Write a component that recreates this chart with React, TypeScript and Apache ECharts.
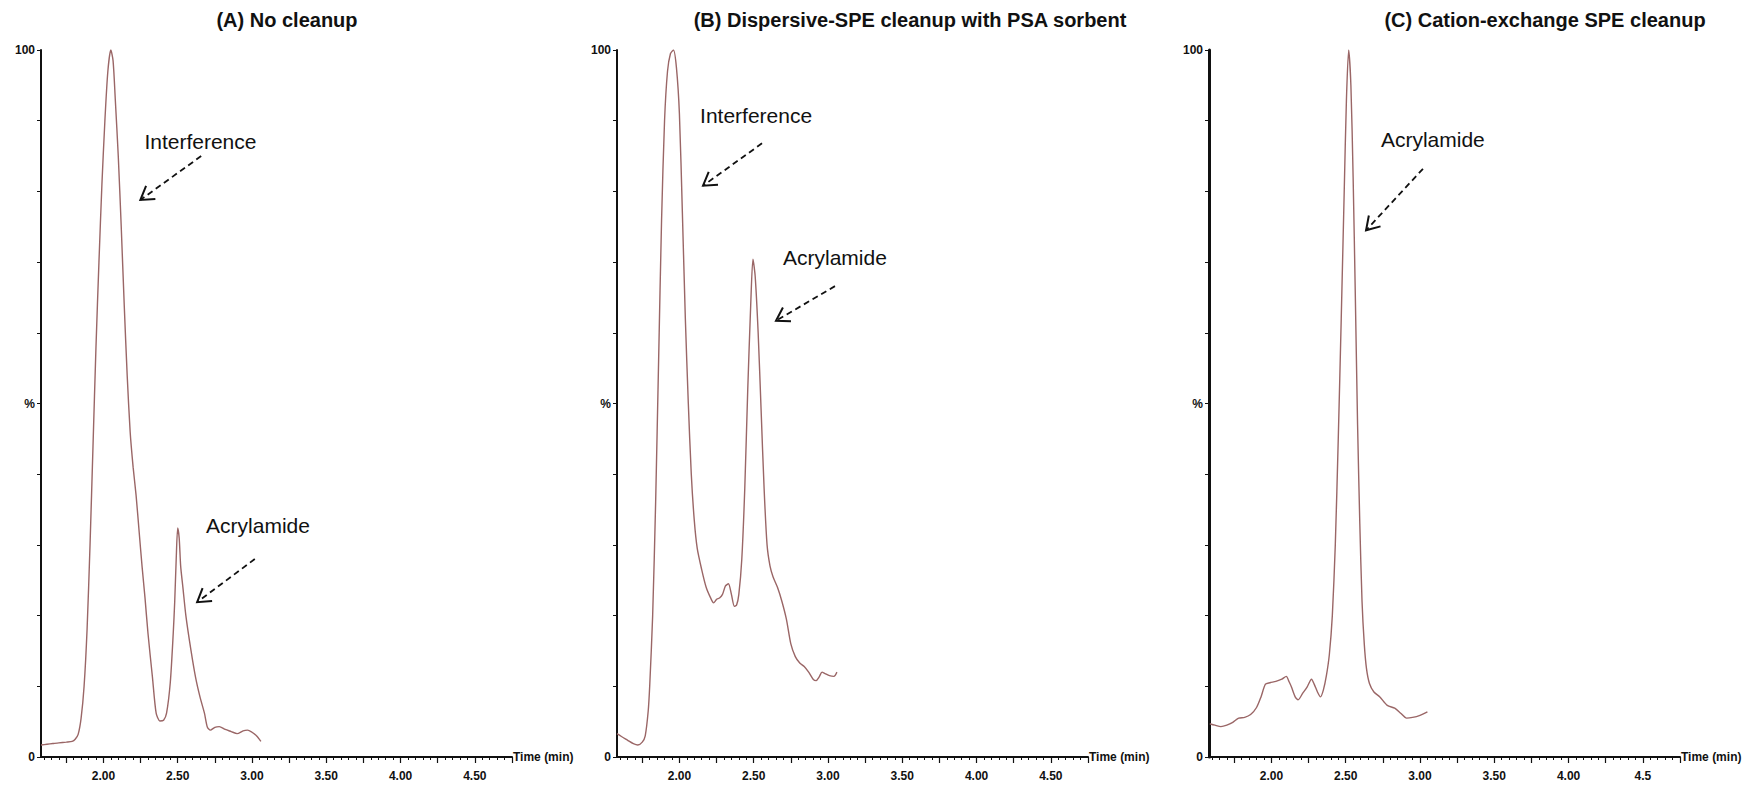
import React, { useEffect, useRef } from "react";
import * as echarts from "echarts";

// ---------- data ----------
const panelTitles = [
  "(A) No cleanup",
  "(B) Dispersive-SPE cleanup with PSA sorbent",
  "(C) Cation-exchange SPE cleanup",
];

const labelTimes = [2.0, 2.5, 3.0, 3.5, 4.0, 4.5];
const xLabelsAB = ["2.00", "2.50", "3.00", "3.50", "4.00", "4.50"];
const xLabelsC = ["2.00", "2.50", "3.00", "3.50", "4.00", "4.5"];
const yLabelValues = [0, 50, 100];
const yLabelTexts = ["0", "%", "100"];
const xAxisName = "Time (min)";

const timesA = [1.58, 1.62, 1.66, 1.7, 1.75, 1.79, 1.81, 1.83, 1.85, 1.87, 1.89, 1.91, 1.93, 1.95, 1.97, 1.99, 2.01, 2.03, 2.05, 2.065, 2.08, 2.1, 2.12, 2.14, 2.16, 2.18, 2.2, 2.22, 2.24, 2.26, 2.28, 2.3, 2.33, 2.355, 2.38, 2.405, 2.425, 2.45, 2.47, 2.48, 2.49, 2.5, 2.51, 2.52, 2.535, 2.555, 2.59, 2.62, 2.65, 2.68, 2.7, 2.72, 2.75, 2.78, 2.82, 2.86, 2.9, 2.94, 2.97, 3.0, 3.03, 3.06];
const valuesA = [1.7, 1.8, 1.9, 2.0, 2.1, 2.2, 2.5, 3.2, 5.5, 10, 18, 30, 44, 58, 70, 81, 90, 97, 100, 98.5, 93, 85, 75, 64, 54, 46, 41, 37, 32, 27, 22.5, 17.5, 11.3, 6.2, 5.1, 5.2, 6.2, 10.5, 17.5, 22, 28, 32.4, 31, 27, 24, 20, 15, 11.3, 8.5, 6.2, 4.2, 3.8, 4.2, 4.3, 3.9, 3.6, 3.3, 3.7, 3.8, 3.5, 3.0, 2.2];

const timesB = [1.58, 1.61, 1.65, 1.69, 1.72, 1.75, 1.77, 1.79, 1.8, 1.82, 1.84, 1.86, 1.88, 1.9, 1.92, 1.94, 1.96, 1.98, 2.0, 2.02, 2.04, 2.06, 2.08, 2.1, 2.12, 2.15, 2.18, 2.21, 2.23, 2.25, 2.27, 2.29, 2.31, 2.33, 2.35, 2.37, 2.385, 2.4, 2.42, 2.44, 2.46, 2.48, 2.495, 2.51, 2.53, 2.55, 2.57, 2.59, 2.61, 2.63, 2.66, 2.69, 2.72, 2.75, 2.78, 2.81, 2.84, 2.87, 2.9, 2.92, 2.94, 2.96, 2.98, 3.01, 3.04, 3.06];
const valuesB = [3.3, 2.9, 2.4, 1.9, 1.7, 2.1, 3.0, 6.5, 10, 20, 36, 56, 76, 90, 97, 99.5, 100, 97.5, 91, 77, 62, 50, 40, 33.5, 29.5, 26.5, 24, 22.5, 21.8, 22.3, 22.5, 23, 24.2, 24.5, 23, 21.3, 21.5, 23, 28, 38, 52, 64, 70.4, 68, 60, 49, 38, 30, 27, 25.5, 24, 22, 19.5, 16, 14.2, 13.3, 12.8, 12, 11, 10.8, 11.3, 12, 11.8, 11.5, 11.4, 12];

const timesC = [1.585, 1.62, 1.66, 1.7, 1.74, 1.78, 1.82, 1.86, 1.9, 1.93, 1.96, 1.99, 2.03, 2.07, 2.1, 2.12, 2.135, 2.16, 2.18, 2.21, 2.24, 2.27, 2.29, 2.31, 2.33, 2.35, 2.37, 2.39, 2.41, 2.43, 2.45, 2.47, 2.49, 2.505, 2.52, 2.535, 2.55, 2.565, 2.58, 2.595, 2.61, 2.625, 2.64, 2.66, 2.69, 2.73, 2.78, 2.83, 2.87, 2.91, 2.95, 3.0, 3.05];
const valuesC = [4.7, 4.5, 4.3, 4.5, 4.9, 5.5, 5.6, 6.0, 7.0, 8.5, 10.3, 10.5, 10.7, 11.0, 11.4, 10.6, 9.9, 8.5, 8.1, 9.0, 9.9, 11.0, 10.2, 9.2, 8.5, 9.5, 11.5, 14.5, 20, 30, 45, 62, 80, 93, 100, 95, 82, 65, 47, 33, 22, 16, 12.5, 10.4, 9.2, 8.5, 7.3, 6.9, 6.2, 5.5, 5.6, 5.9, 6.4];

// annotations in data coordinates (time, %)
const annotationPanels = [0, 0, 1, 1, 2];
const annotationTexts = ["Interference", "Acrylamide", "Interference", "Acrylamide", "Acrylamide"];
const annotationTextPos = [[2.276, 87.1], [2.691, 32.7], [2.139, 90.8], [2.697, 70.7], [2.737, 87.4]];
const arrowFrom = [[2.658, 85.0], [3.019, 28.0], [2.556, 86.8], [3.047, 66.6], [3.02, 83.2]];
const arrowTo = [[2.249, 78.8], [2.631, 21.9], [2.159, 80.8], [2.65, 61.7], [2.637, 74.5]];

// ---------- layout ----------
const X_MIN = 1.58;
const X_MAX = 4.75;
const gridLefts = [41, 617, 1209];
const GRID_TOP = 50;
const GRID_W = 471;
const GRID_H = 707;
const titleCenters = [287, 910, 1545];
const TITLE_Y = 20;
const LINE_COLOR = "#9a6666";
const INK = "#111111";
const FONT = '"Liberation Sans", Arial, Helvetica, sans-serif';

function ticks(step100: number) {
  const out: number[] = [];
  for (let k = 0; k <= 500; k += step100) {
    const v = k / 100;
    if (v >= X_MIN - 1e-9 && v <= X_MAX + 1e-9) out.push(v);
  }
  return out;
}

export default function App() {
  const ref = useRef<HTMLDivElement>(null);

  useEffect(() => {
    document.body.style.margin = "0";
    if (!ref.current) return;
    const chart = echarts.init(ref.current, null, { renderer: "svg" });

    const seriesData = [
      timesA.map((t, i) => [t, valuesA[i]]),
      timesB.map((t, i) => [t, valuesB[i]]),
      timesC.map((t, i) => [t, valuesC[i]]),
    ];
    const majorTicks = ticks(25);
    const minorTicks = ticks(5);

    const grids = gridLefts.map((l) => ({ left: l, top: GRID_TOP, width: GRID_W, height: GRID_H, containLabel: false }));
    const xAxes: any[] = [];
    const yAxes: any[] = [];
    const series: any[] = [];
    gridLefts.forEach((_, p) => {
      const labels = p === 2 ? xLabelsC : xLabelsAB;
      xAxes.push({
        type: "value",
        gridIndex: p,
        min: X_MIN,
        max: X_MAX,
        position: "bottom",
        axisLine: { show: true, onZero: false, lineStyle: { color: INK, width: 2 } },
        axisTick: { show: true, length: 6, customValues: majorTicks, lineStyle: { color: INK, width: 1.2 } },
        axisLabel: {
          show: true,
          customValues: labelTimes,
          margin: 13,
          color: INK,
          fontWeight: "bold",
          fontSize: 12,
          fontFamily: FONT,
          formatter: (v: number) => {
            const i = labelTimes.findIndex((t) => Math.abs(t - v) < 1e-6);
            return i >= 0 ? labels[i] : "";
          },
        },
        splitLine: { show: false },
        name: xAxisName,
        nameLocation: "end",
        nameGap: 1,
        nameTextStyle: { color: INK, fontWeight: "bold", fontSize: 12, fontFamily: FONT, padding: [5, 0, 0, 0] },
      });
      xAxes.push({
        type: "value",
        gridIndex: p,
        min: X_MIN,
        max: X_MAX,
        position: "bottom",
        axisLine: { show: false },
        axisTick: { show: true, length: 3, customValues: minorTicks, lineStyle: { color: INK, width: 1 } },
        axisLabel: { show: false },
        splitLine: { show: false },
      });
      yAxes.push({
        type: "value",
        gridIndex: p,
        min: 0,
        max: 100,
        interval: 10,
        position: "left",
        axisLine: { show: true, onZero: false, lineStyle: { color: INK, width: p === 2 ? 3 : 2 } },
        axisTick: { show: true, length: 4, lineStyle: { color: INK, width: 1 } },
        axisLabel: {
          show: true,
          margin: 6,
          color: INK,
          fontWeight: "bold",
          fontSize: 12,
          fontFamily: FONT,
          formatter: (v: number) => {
            const i = yLabelValues.indexOf(Math.round(v));
            return i >= 0 ? yLabelTexts[i] : "";
          },
        },
        splitLine: { show: false },
      });
      series.push({
        type: "line",
        xAxisIndex: p * 2,
        yAxisIndex: p,
        data: seriesData[p],
        showSymbol: false,
        symbol: "none",
        smooth: 0.25,
        lineStyle: { color: LINE_COLOR, width: 1.4 },
        clip: true,
      });
    });

    chart.setOption({
      animation: false,
      backgroundColor: "#ffffff",
      grid: grids,
      xAxis: xAxes,
      yAxis: yAxes,
      series,
    });

    const graphic: any[] = [];
    panelTitles.forEach((t, p) => {
      graphic.push({
        type: "text",
        x: titleCenters[p],
        y: TITLE_Y,
        style: {
          text: t,
          fill: INK,
          font: `bold 20px ${FONT}`,
          textAlign: "center",
          align: "center",
          textVerticalAlign: "middle",
          verticalAlign: "middle",
        },
      });
    });

    annotationTexts.forEach((txt, i) => {
      const p = annotationPanels[i];
      const conv = (pt: number[]) => chart.convertToPixel({ gridIndex: p } as any, pt) as number[];
      const tp = conv(annotationTextPos[i]);
      const a = conv(arrowFrom[i]);
      const b = conv(arrowTo[i]);
      graphic.push({
        type: "text",
        x: tp[0],
        y: tp[1],
        style: {
          text: txt,
          fill: INK,
          font: `normal 21px ${FONT}`,
          textAlign: "left",
          align: "left",
          textVerticalAlign: "middle",
          verticalAlign: "middle",
        },
      });
      graphic.push({
        type: "line",
        shape: { x1: a[0], y1: a[1], x2: b[0], y2: b[1] },
        style: { stroke: INK, lineWidth: 1.8, lineDash: [6, 4] },
      });
      const dx = b[0] - a[0];
      const dy = b[1] - a[1];
      const len = Math.hypot(dx, dy) || 1;
      const ux = dx / len;
      const uy = dy / len;
      const L = 15;
      const ang = (32 * Math.PI) / 180;
      const rot = (s: number) => [
        b[0] - L * (ux * Math.cos(s * ang) - uy * Math.sin(s * ang)),
        b[1] - L * (ux * Math.sin(s * ang) + uy * Math.cos(s * ang)),
      ];
      graphic.push({
        type: "polyline",
        shape: { points: [rot(1), [b[0], b[1]], rot(-1)] },
        style: { stroke: INK, lineWidth: 2, fill: "none" },
      });
    });

    chart.setOption({ graphic });

    return () => chart.dispose();
  }, []);

  return (
    <div
      ref={ref}
      style={{ position: "absolute", left: 0, top: 0, width: 1746, height: 785, background: "#fff" }}
    />
  );
}
